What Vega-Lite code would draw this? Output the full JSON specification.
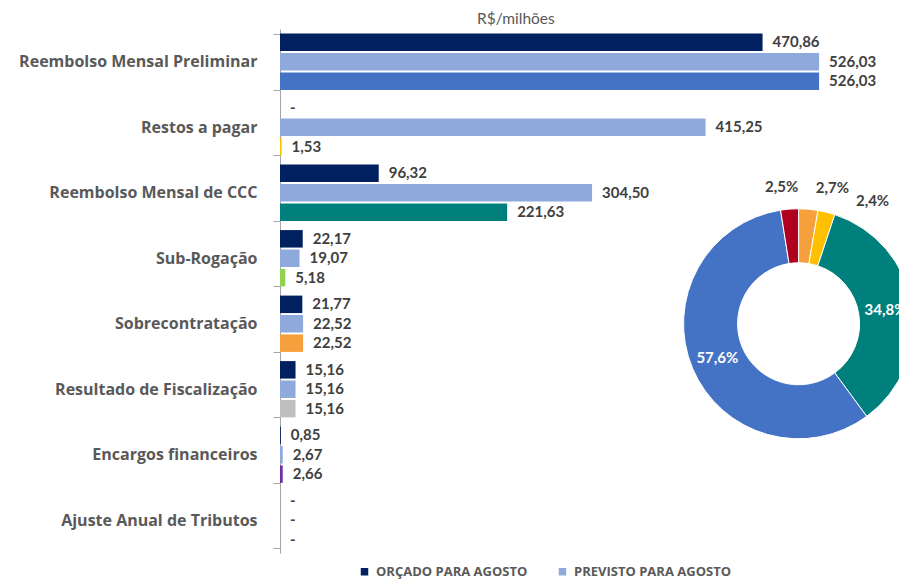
{
  "$schema": "https://vega.github.io/schema/vega-lite/v6.json",
  "width": 619,
  "height": 524,
  "autosize": "none",
  "padding": {"left": 280, "top": 29, "right": 0, "bottom": 30},
  "title": {"text": "R$/milhões", "anchor": "start", "frame": "group", "dx": 197, "dy": 9, "font": "Lato", "fontSize": 15.5, "fontWeight": "normal", "color": "#595959", "offset": 3},
  "datasets": {
    "barras": [
      {"categoria": "Reembolso Mensal Preliminar", "serie": "Orçado", "legenda": "ORÇADO PARA AGOSTO", "valor": 470.86, "rotulo": "470,86"},
      {"categoria": "Reembolso Mensal Preliminar", "serie": "Previsto", "legenda": "PREVISTO PARA AGOSTO", "valor": 526.03, "rotulo": "526,03"},
      {"categoria": "Reembolso Mensal Preliminar", "serie": "Realizado", "legenda": "REALIZADO - Reembolso Mensal Preliminar", "valor": 526.03, "rotulo": "526,03"},
      {"categoria": "Restos a pagar", "serie": "Orçado", "legenda": "ORÇADO PARA AGOSTO", "valor": 0, "rotulo": "-"},
      {"categoria": "Restos a pagar", "serie": "Previsto", "legenda": "PREVISTO PARA AGOSTO", "valor": 415.25, "rotulo": "415,25"},
      {"categoria": "Restos a pagar", "serie": "Realizado", "legenda": "REALIZADO - Restos a pagar", "valor": 1.53, "rotulo": "1,53"},
      {"categoria": "Reembolso Mensal de CCC", "serie": "Orçado", "legenda": "ORÇADO PARA AGOSTO", "valor": 96.32, "rotulo": "96,32"},
      {"categoria": "Reembolso Mensal de CCC", "serie": "Previsto", "legenda": "PREVISTO PARA AGOSTO", "valor": 304.50, "rotulo": "304,50"},
      {"categoria": "Reembolso Mensal de CCC", "serie": "Realizado", "legenda": "REALIZADO - Reembolso Mensal de CCC", "valor": 221.63, "rotulo": "221,63"},
      {"categoria": "Sub-Rogação", "serie": "Orçado", "legenda": "ORÇADO PARA AGOSTO", "valor": 22.17, "rotulo": "22,17"},
      {"categoria": "Sub-Rogação", "serie": "Previsto", "legenda": "PREVISTO PARA AGOSTO", "valor": 19.07, "rotulo": "19,07"},
      {"categoria": "Sub-Rogação", "serie": "Realizado", "legenda": "REALIZADO - Sub-Rogação", "valor": 5.18, "rotulo": "5,18"},
      {"categoria": "Sobrecontratação", "serie": "Orçado", "legenda": "ORÇADO PARA AGOSTO", "valor": 21.77, "rotulo": "21,77"},
      {"categoria": "Sobrecontratação", "serie": "Previsto", "legenda": "PREVISTO PARA AGOSTO", "valor": 22.52, "rotulo": "22,52"},
      {"categoria": "Sobrecontratação", "serie": "Realizado", "legenda": "REALIZADO - Sobrecontratação", "valor": 22.52, "rotulo": "22,52"},
      {"categoria": "Resultado de Fiscalização", "serie": "Orçado", "legenda": "ORÇADO PARA AGOSTO", "valor": 15.16, "rotulo": "15,16"},
      {"categoria": "Resultado de Fiscalização", "serie": "Previsto", "legenda": "PREVISTO PARA AGOSTO", "valor": 15.16, "rotulo": "15,16"},
      {"categoria": "Resultado de Fiscalização", "serie": "Realizado", "legenda": "REALIZADO - Resultado de Fiscalização", "valor": 15.16, "rotulo": "15,16"},
      {"categoria": "Encargos financeiros", "serie": "Orçado", "legenda": "ORÇADO PARA AGOSTO", "valor": 0.85, "rotulo": "0,85"},
      {"categoria": "Encargos financeiros", "serie": "Previsto", "legenda": "PREVISTO PARA AGOSTO", "valor": 2.67, "rotulo": "2,67"},
      {"categoria": "Encargos financeiros", "serie": "Realizado", "legenda": "REALIZADO - Encargos financeiros", "valor": 2.66, "rotulo": "2,66"},
      {"categoria": "Ajuste Anual de Tributos", "serie": "Orçado", "legenda": "ORÇADO PARA AGOSTO", "valor": 0, "rotulo": "-"},
      {"categoria": "Ajuste Anual de Tributos", "serie": "Previsto", "legenda": "PREVISTO PARA AGOSTO", "valor": 0, "rotulo": "-"},
      {"categoria": "Ajuste Anual de Tributos", "serie": "Realizado", "legenda": "REALIZADO - Ajuste Anual de Tributos", "valor": 0, "rotulo": "-"}
    ],
    "rosca": [
      {"fatia": "Sobrecontratação", "ordem": 1, "pct": 2.7, "rotulo": "2,7%"},
      {"fatia": "Restos a pagar", "ordem": 2, "pct": 2.4, "rotulo": "2,4%"},
      {"fatia": "Reembolso Mensal de CCC", "ordem": 3, "pct": 34.8, "rotulo": "34,8%"},
      {"fatia": "Reembolso Mensal Preliminar", "ordem": 4, "pct": 57.6, "rotulo": "57,6%"},
      {"fatia": "Outros", "ordem": 5, "pct": 2.5, "rotulo": "2,5%"}
    ]
  },
  "layer": [
    {
      "data": {"name": "barras"},
      "mark": {"type": "bar"},
      "encoding": {
        "y": {"field": "categoria", "type": "nominal", "sort": ["Reembolso Mensal Preliminar", "Restos a pagar", "Reembolso Mensal de CCC", "Sub-Rogação", "Sobrecontratação", "Resultado de Fiscalização", "Encargos financeiros", "Ajuste Anual de Tributos"], "scale": {"paddingInner": 0.14, "paddingOuter": 0.07}, "axis": {"title": null, "labelFont": "Open Sans", "labelFontSize": 16, "labelFontWeight": "bold", "labelColor": "#595959", "domainColor": "#A6A6A6", "tickColor": "#A6A6A6", "tickSize": 7, "tickBand": "extent", "labelPadding": 16, "labelLimit": 300}},
        "yOffset": {"field": "serie", "type": "nominal", "sort": ["Orçado", "Previsto", "Realizado"], "scale": {"paddingInner": 0.1}},
        "x": {"field": "valor", "type": "quantitative", "scale": {"domain": [0, 604], "nice": false, "zero": true}, "axis": null},
        "color": {"field": "legenda", "type": "nominal",
          "scale": {"domain": ["ORÇADO PARA AGOSTO", "PREVISTO PARA AGOSTO", "REALIZADO - Reembolso Mensal Preliminar", "REALIZADO - Restos a pagar", "REALIZADO - Reembolso Mensal de CCC", "REALIZADO - Sub-Rogação", "REALIZADO - Sobrecontratação", "REALIZADO - Resultado de Fiscalização", "REALIZADO - Encargos financeiros", "REALIZADO - Ajuste Anual de Tributos"],
                    "range": ["#002060", "#8EA9DB", "#4472C4", "#FFC000", "#00807C", "#92D050", "#F5A03C", "#BFBFBF", "#7030A0", "#A5A5A5"]},
          "legend": {"values": ["ORÇADO PARA AGOSTO", "PREVISTO PARA AGOSTO"], "orient": "none", "legendX": 78, "legendY": 536, "direction": "horizontal", "title": null, "symbolType": "square", "symbolSize": 56, "symbolStrokeWidth": 0, "labelFont": "Open Sans", "labelFontSize": 13, "labelFontWeight": 700, "labelColor": "#595959", "labelLimit": 400, "columnPadding": 28, "labelOffset": 5}}
      }
    },
    {
      "data": {"name": "barras"},
      "mark": {"type": "text", "align": "left", "baseline": "middle", "dx": 10, "font": "Lato", "fontSize": 15, "fontWeight": "bold", "color": "#404040"},
      "encoding": {
        "y": {"field": "categoria", "type": "nominal", "sort": ["Reembolso Mensal Preliminar", "Restos a pagar", "Reembolso Mensal de CCC", "Sub-Rogação", "Sobrecontratação", "Resultado de Fiscalização", "Encargos financeiros", "Ajuste Anual de Tributos"]},
        "yOffset": {"field": "serie", "type": "nominal", "sort": ["Orçado", "Previsto", "Realizado"]},
        "x": {"field": "valor", "type": "quantitative"},
        "text": {"field": "rotulo"}
      }
    },
    {
      "data": {"name": "rosca"},
      "encoding": {
        "x": {"datum": 506, "type": "quantitative"},
        "y": {"datum": "Sobrecontratação", "type": "nominal"},
        "theta": {"field": "pct", "type": "quantitative", "stack": true},
        "order": {"field": "ordem", "type": "quantitative"}
      },
      "layer": [
        {
          "mark": {"type": "arc", "innerRadius": 61, "outerRadius": 115, "stroke": "#FFFFFF", "strokeWidth": 1},
          "encoding": {
            "color": {"field": "fatia", "type": "nominal", "legend": null,
              "scale": {"domain": ["Sobrecontratação", "Restos a pagar", "Reembolso Mensal de CCC", "Reembolso Mensal Preliminar", "Outros"], "range": ["#F5A03C", "#FFC000", "#00807C", "#4472C4", "#B00020"]}}
          }
        },
        {
          "mark": {"type": "text", "radius": 88, "font": "Lato", "fontSize": 15, "fontWeight": "bold", "color": "#FFFFFF"},
          "encoding": {
            "detail": {"field": "fatia"},
            "text": {"condition": {"test": "datum.ordem === 3 || datum.ordem === 4", "field": "rotulo"}, "value": ""}
          }
        },
        {
          "mark": {"type": "text", "radius": 140, "dx": 22, "dy": 4, "font": "Lato", "fontSize": 15, "fontWeight": "bold", "color": "#404040"},
          "encoding": {
            "detail": {"field": "fatia"},
            "text": {"condition": {"test": "datum.ordem === 1", "field": "rotulo"}, "value": ""}
          }
        },
        {
          "mark": {"type": "text", "radius": 140, "dx": 40, "dy": 13, "font": "Lato", "fontSize": 15, "fontWeight": "bold", "color": "#404040"},
          "encoding": {
            "detail": {"field": "fatia"},
            "text": {"condition": {"test": "datum.ordem === 2", "field": "rotulo"}, "value": ""}
          }
        },
        {
          "mark": {"type": "text", "radius": 140, "dx": -6, "dy": 3, "font": "Lato", "fontSize": 15, "fontWeight": "bold", "color": "#404040"},
          "encoding": {
            "detail": {"field": "fatia"},
            "text": {"condition": {"test": "datum.ordem === 5", "field": "rotulo"}, "value": ""}
          }
        }
      ]
    }
  ],
  "resolve": {"scale": {"color": "independent"}},
  "config": {
    "view": {"stroke": null},
    "axis": {"grid": false}
  }
}
